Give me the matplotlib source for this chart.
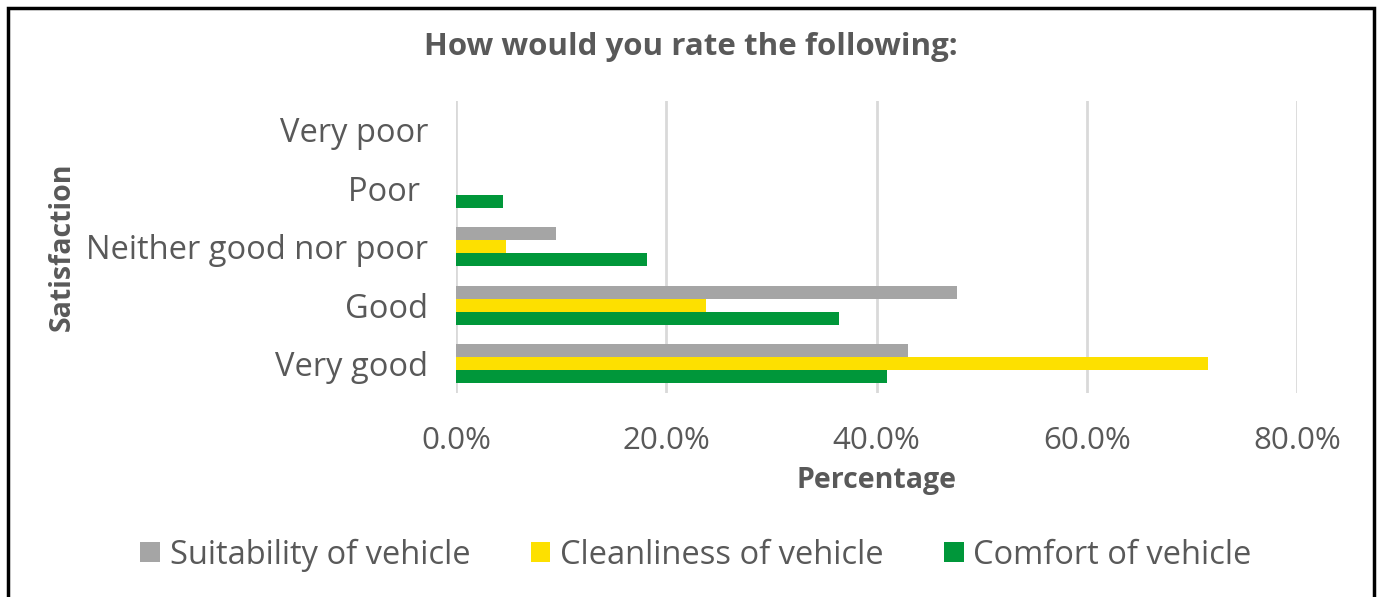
import matplotlib
matplotlib.use("Agg")
import matplotlib.pyplot as plt
import numpy as np
from matplotlib.patches import Rectangle
from matplotlib.ticker import FuncFormatter

categories = ["Very good", "Good", "Neither good nor poor", "Poor ", "Very poor"]
series_names = ["Suitability of vehicle", "Cleanliness of vehicle", "Comfort of vehicle"]
suitability = [43.0, 47.7, 9.5, 0.0, 0.0]
cleanliness = [71.5, 23.8, 4.8, 0.0, 0.0]
comfort = [41.0, 36.4, 18.2, 4.5, 0.0]
colors = ["#a5a5a5", "#fde000", "#00973a"]

plt.rcParams["font.family"] = ["Open Sans", "DejaVu Sans"]
text_col = "#595959"

fig = plt.figure(figsize=(13.78, 5.97), dpi=100)
ax = fig.add_axes([456 / 1378, 1 - 393 / 597, (1297 - 456) / 1378, (393 - 100.5) / 597])

y = np.arange(len(categories))
h = 0.22
for vals, off, c, name in zip([suitability, cleanliness, comfort], [h, 0, -h], colors, series_names):
    ax.barh(y + off, vals, height=h, color=c, label=name, zorder=3)

ax.set_xlim(0, 80)
ax.set_ylim(-0.5, 4.5)
ax.set_yticks(y)
ax.set_yticklabels(categories, fontsize=23.5, color=text_col)
ax.set_xticks([0, 20, 40, 60, 80])
ax.xaxis.set_major_formatter(FuncFormatter(lambda v, p: "%.1f%%" % v))
ax.tick_params(axis="x", labelsize=22.5, labelcolor=text_col, length=0, pad=24)
ax.tick_params(axis="y", length=0, pad=20)
ax.grid(axis="x", color="#d9d9d9", linewidth=2, zorder=0)
for s in ax.spines.values():
    s.set_visible(False)

ax.set_xlabel("Percentage", fontsize=20.5, fontweight="bold", color=text_col, labelpad=7)
fig.text(62 / 1378, 1 - 247 / 597, "Satisfaction", rotation=90, fontsize=20.5, fontweight="bold",
         color=text_col, ha="center", va="center")
fig.text(691 / 1378, 1 - 47 / 597, "How would you rate the following:", fontsize=22.5,
         fontweight="bold", color=text_col, ha="center", va="center")

leg = fig.legend(loc="center", bbox_to_anchor=(696 / 1378, 1 - 555 / 597), ncol=3, frameon=False,
                 fontsize=23.5, handlelength=0.6, handleheight=0.6, handletextpad=0.3, columnspacing=1.85)
for t in leg.get_texts():
    t.set_color(text_col)

fig.patches.append(Rectangle((8 / 1378, -0.05), (1374 - 8) / 1378, 1.05 - 8 / 597,
                             transform=fig.transFigure, fill=False, edgecolor="black", linewidth=2.5))

fig.savefig("out.png", dpi=100)
